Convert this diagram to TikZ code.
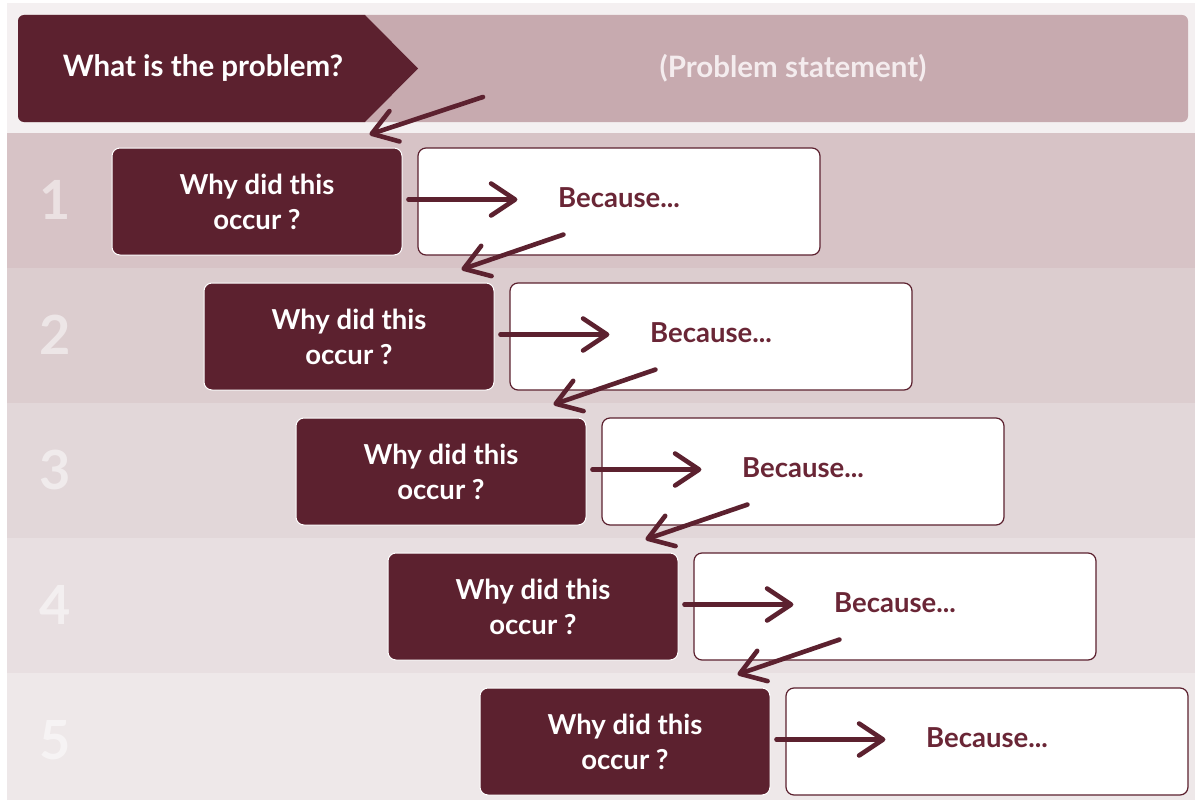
\documentclass[tikz,border=0pt]{standalone}
\usepackage{fontspec}
\setmainfont{Lato}
\usetikzlibrary{arrows.meta,calc}

\definecolor{wine}{HTML}{5C212F}
\definecolor{winetext}{HTML}{6A2636}
\definecolor{mauve}{HTML}{C7AAAF}
\definecolor{paper}{HTML}{F4F0F1}
\definecolor{headtext}{HTML}{F4ECEE}
\definecolor{bandA}{HTML}{D7C3C6}
\definecolor{bandB}{HTML}{DCCDCF}
\definecolor{bandC}{HTML}{E2D7D9}
\definecolor{bandD}{HTML}{E8DFE1}
\definecolor{bandE}{HTML}{EEE8E9}

\tikzset{
  whybox/.style={draw=white, line width=1pt, fill=wine, rounded corners=8pt,
    minimum width=290, minimum height=107, text=white, align=center,
    font=\fontsize{27.5}{35}\selectfont\bfseries},
  becbox/.style={draw=wine, line width=1.2pt, fill=white, rounded corners=8pt,
    minimum width=402, minimum height=107, text=winetext, text depth=8pt,
    font=\fontsize{27.5}{35}\selectfont\bfseries},
  rownum/.style={text=white, text opacity=.5, font=\fontsize{54}{54}\selectfont\bfseries},
  headlabel/.style={font=\fontsize{29.5}{34}\selectfont\bfseries},
  sketch/.style={draw=wine, line width=4.6pt, line cap=round,
    -{Straight Barb[length=24pt,width=32pt,round]}},
}

\begin{document}
\begin{tikzpicture}[x=1pt,y=-1pt]
\useasboundingbox (0,0) rectangle (1195,800);
\fill [white] (0,0) rectangle (1195,800);
\fill [paper] (7,3) rectangle (1195,800);

% row bands
\foreach \c [count=\i] in {bandA,bandB,bandC,bandD,bandE}
  \fill [\c] (7,{133+135*(\i-1)}) rectangle (1195,{268+135*(\i-1)});

% header
\fill [mauve, rounded corners=6pt] (18,15) rectangle (1188,122);
\fill [wine] (365,15) -- (418,68.5) -- (365,122)
  [rounded corners=6pt] -- (18,122) -- (18,15) [sharp corners] -- cycle;
\node [headlabel, text=white] (problem) at (203,68.5) {What is the problem?};
\node [headlabel, text=headtext] (statement) at (793,68.5) {(Problem statement)};

\foreach \i in {1,...,5}{
  \node [rownum] (num\i) at (55,{200+135*(\i-1)}) {\i};
  \node [whybox] (why\i) at ({257+92*(\i-1)},{201.5+135*(\i-1)}) {Why did this\\occur ?};
  \node [becbox] (bec\i) at ({619+92*(\i-1)},{201.5+135*(\i-1)}) {Because...};
}

% sketched arrows
\coordinate (from0) at (483,97);
\foreach \i in {1,...,5}{
  \coordinate (tip\i) at ($(bec\i.west)+(100,-2)$);
  \coordinate (from\i) at ($(bec\i.south west)+(146,-21)$);
  \coordinate (to\i) at ($(why\i.north east)+(-33,-13)$);
  \draw [sketch, shorten <=6pt] (why\i.east) ++(0,-2) -- (tip\i);
}
\foreach \i [count=\j from 0] in {1,...,5}
  \draw [sketch] (from\j) -- (to\i);

\end{tikzpicture}
\end{document}
